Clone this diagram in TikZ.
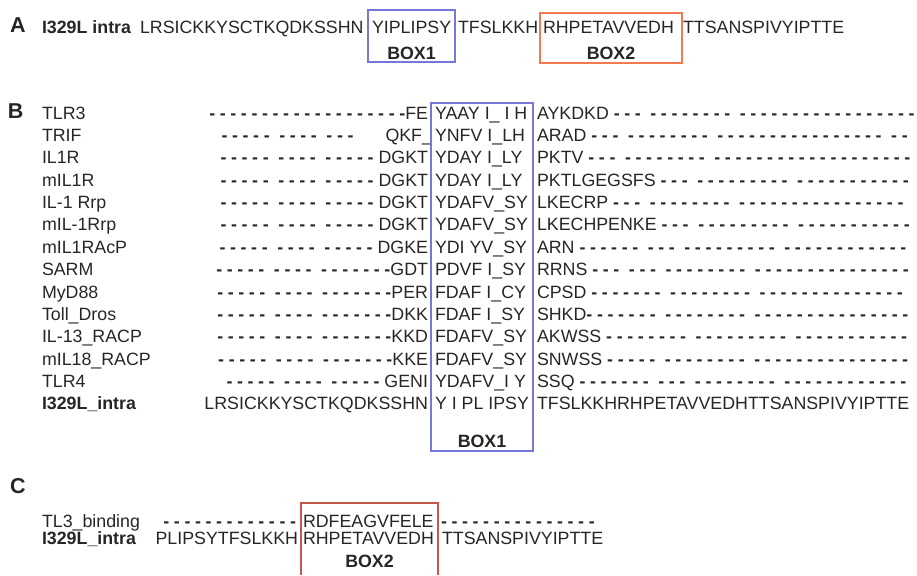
\documentclass[tikz,border=0pt]{standalone}
\usepackage{fontspec}
\setmainfont{Liberation Sans}
% gap characters of the alignment: spaced-out hyphens, no TeX dash ligatures
\newfontfamily\gapfam[LetterSpace=26,Ligatures=TeXOff]{Liberation Sans}
\newcommand\seqfont{\fontsize{17.8}{20}\selectfont}
\newcommand\panelfont{\fontsize{21.5}{24}\selectfont\bfseries}
\newcommand\gaps[1]{{\gapfam\bfseries #1}}
\definecolor{ink}{HTML}{262626}
\definecolor{boxblue}{HTML}{7478D6}
\definecolor{boxorange}{HTML}{F07A52}
\definecolor{boxred}{HTML}{C4584A}

% one row of the alignment in panel B: index, name, left part, boxed part, right part
\newcommand\alnrow[5]{%
  \pgfmathsetmacro\rowy{119+22.38*(#1-1)}%
  \node[seq, anchor=base west] (name#1) at (42,\rowy) {#2};
  \node[seq, anchor=base east] (left#1) at (428,\rowy) {#3};
  \node[seq, anchor=base west] (core#1) at (435,\rowy) {#4};
  \node[seq, anchor=base west] (right#1) at (537,\rowy) {#5};
}

\begin{document}
\begin{tikzpicture}[x=1pt,y=-1pt,
  seq/.style={inner sep=0pt, outer sep=0pt, text=ink, font=\seqfont},
  tag/.style={seq, font=\seqfont\bfseries},
  panel/.style={inner sep=0pt, outer sep=0pt, text=ink, font=\panelfont, anchor=base west},
  boxone/.style={draw=boxblue, line width=1.4pt},
  boxtwo/.style={draw=boxorange, line width=1.4pt},
  boxthree/.style={draw=boxred, line width=1.4pt}]
\useasboundingbox (0,0) rectangle (917,575);

% ---------------- panel A ----------------
\node[panel] (labA) at (10,33) {A};
\node[tag, anchor=base west] (aname) at (42,34) {I329L intra};
\node[seq, anchor=base west] (a1) at (140,34) {LRSICKKYSCTKQDKSSHN};
\node[seq, anchor=base west] (a2) at (372,34) {YIPLIPSY};
\node[seq, anchor=base west] (a3) at (458,34) {TFSLKKH};
\node[seq, anchor=base west] (a4) at (543,34) {RHPETAVVEDH};
\node[seq, anchor=base west] (a5) at (683,34) {TTSANSPIVYIPTTE};
\draw[boxone] (368,10) rectangle (455,62);
\draw[boxtwo] (540,13) rectangle (682,63);
\node[tag, anchor=base] (aboxone) at (411.5,60) {BOX1};
\node[tag, anchor=base] (aboxtwo) at (611,60) {BOX2};

% ---------------- panel B ----------------
\node[panel] (labB) at (8,118) {B};
\alnrow{1}{TLR3}{\gaps{-------------------}FE}{YAAY I\_ I H}{AYKDKD \gaps{--- -------- -----------------}}
\alnrow{2}{TRIF}{\gaps{----- ---- ---}\hspace{32pt}QKF\_\kern-4pt}{YNFV I\_LH}{ARAD \gaps{--- -------- ---------------- --}}
\alnrow{3}{IL1R}{\gaps{----- ---- -----} DGKT}{YDAY I\_LY}{PKTV \gaps{--- -------- -------------------}}
\alnrow{4}{mIL1R}{\gaps{----- ---- -----} DGKT}{YDAY I\_LY}{PKTLGEGSFS \gaps{--- --------- -----------}}
\alnrow{5}{IL-1 Rrp}{\gaps{----- ---- -----} DGKT}{YDAFV\_SY}{LKECRP \gaps{--- -------- ----------------}}
\alnrow{6}{mIL-1Rrp}{\gaps{----- ---- -----} DGKT}{YDAFV\_SY}{LKECHPENKE \gaps{--- --------- -----------}}
\alnrow{7}{mIL1RAcP}{\gaps{----- ---- -----} DGKE}{YDI YV\_SY}{ARN \gaps{------ --- --------- ------------}}
\alnrow{8}{SARM}{\gaps{----- ---- -------}GDT}{PDVF I\_SY}{RRNS \gaps{--- --- -------- ---------------}}
\alnrow{9}{MyD88}{\gaps{----- ---- -------}PER}{FDAF I\_CY}{CPSD \gaps{------- -------- --------------}}
\alnrow{10}{Toll\_Dros}{\gaps{----- ---- -------}DKK}{FDAF I\_SY}{SHKD\gaps{------- -------- ---------------}}
\alnrow{11}{IL-13\_RACP}{\gaps{----- ---- -------}KKD}{FDAFV\_SY}{AKWSS \gaps{-------- --------- -----------}}
\alnrow{12}{mIL18\_RACP}{\gaps{----- ---- -------}KKE}{FDAFV\_SY}{SNWSS \gaps{----- -------- ---------------}}
\alnrow{13}{TLR4}{\gaps{----- ---- -----} GENI}{YDAFV\_I Y}{SSQ \gaps{------- --- -------- ------------}}
\alnrow{14}{\textbf{I329L\_intra}}{LRSICKKYSCTKQDKSSHN}{Y I PL IPSY}{TFSLKKHRHPETAVVEDHTTSANSPIVYIPTTE}
\draw[boxone] (431,103) rectangle (533,451);
\node[tag, anchor=base] (bboxone) at (482,447) {BOX1};

% ---------------- panel C ----------------
\node[panel] (labC) at (10,493) {C};
\node[seq, anchor=base west] (cname1) at (42,527) {TL3\_binding};
\node[tag, anchor=base west] (cname2) at (42,544) {I329L\_intra};
\node[seq, anchor=base east] (cleft1) at (296,527) {\gaps{-------------}};
\node[seq, anchor=base east] (cleft2) at (298,544) {PLIPSYTFSLKKH};
\node[seq, anchor=base west] (ccore1) at (303,527) {RDFEAGVFELE};
\node[seq, anchor=base west] (ccore2) at (303,544) {RHPETAVVEDH};
\node[seq, anchor=base west] (cright1) at (441,527) {\gaps{---------------}};
\node[seq, anchor=base west] (cright2) at (442,544) {TTSANSPIVYIPTTE};
\draw[boxthree] (301,575) -- (301,503) -- (438,503) -- (438,575);
\node[tag, anchor=base] (cboxtwo) at (369.5,567) {BOX2};
\end{tikzpicture}
\end{document}
